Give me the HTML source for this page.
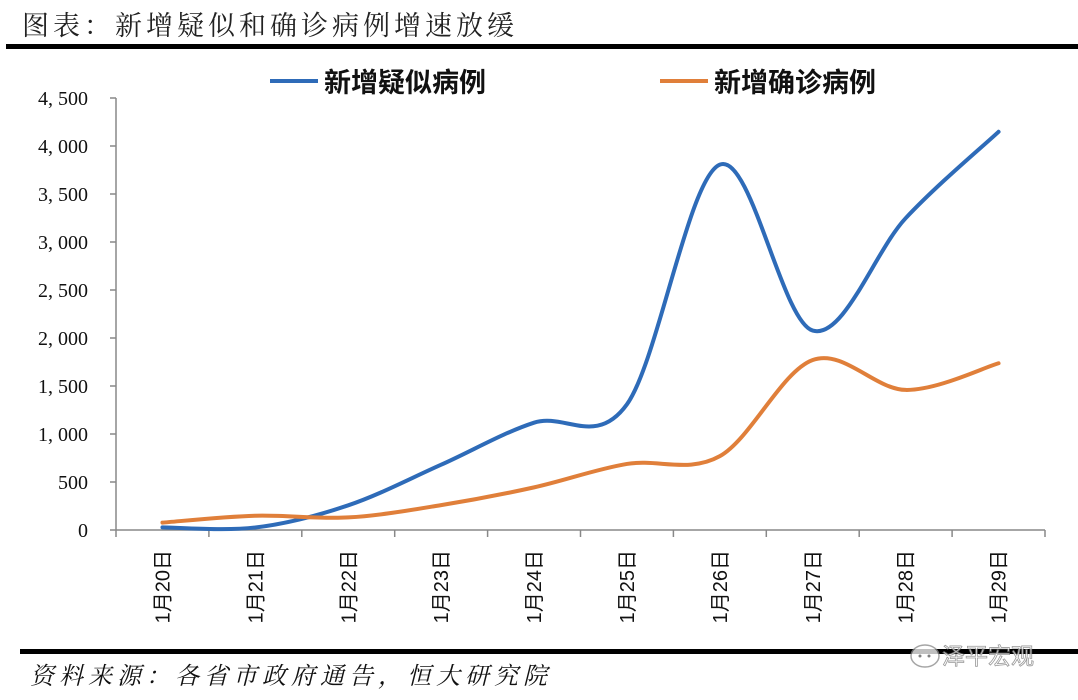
<!DOCTYPE html>
<html><head><meta charset="utf-8"><style>
body{margin:0;background:#fff;}
svg{display:block;}
</style></head><body>
<svg width="1078" height="700" xmlns="http://www.w3.org/2000/svg">
<text x="22" y="35" font-family="'Liberation Serif','Noto Serif CJK SC',serif" font-size="27" letter-spacing="4" fill="#222">图表：新增疑似和确诊病例增速放缓</text>
<rect x="6" y="44" width="1072" height="5" fill="#000"/>
<g id="legend">
<line x1="270" y1="81" x2="318" y2="81" stroke="#2e6bb8" stroke-width="4"/>
<text x="324" y="92" font-family="'Liberation Sans','Noto Sans CJK SC',sans-serif" font-weight="bold" font-size="27" fill="#111">新增疑似病例</text>
<line x1="660" y1="81" x2="708" y2="81" stroke="#e07f3a" stroke-width="4"/>
<text x="714" y="92" font-family="'Liberation Sans','Noto Sans CJK SC',sans-serif" font-weight="bold" font-size="27" fill="#111">新增确诊病例</text>
</g>
<g id="axes"></g>
<g id="series"></g>
<rect x="20" y="649" width="1058" height="5" fill="#000"/>
<text x="30" y="684" font-family="'Liberation Serif','Noto Serif CJK SC',serif" font-style="italic" font-size="24" letter-spacing="5" fill="#111">资料来源：各省市政府通告，恒大研究院</text>
<g opacity="0.75">
<ellipse cx="925" cy="656" rx="14" ry="11" fill="#fff" stroke="#888" stroke-width="1.5"/>
<circle cx="920" cy="656" r="1.5" fill="#555"/><circle cx="929" cy="656" r="1.5" fill="#555"/>
<text x="942" y="664" font-family="'Liberation Sans','Noto Sans CJK SC',sans-serif" font-size="23" fill="#fff" stroke="#777" stroke-width="0.8">泽平宏观</text>
</g>
</svg>
<script>
const categories=["1月20日","1月21日","1月22日","1月23日","1月24日","1月25日","1月26日","1月27日","1月28日","1月29日"];
const suspected=[27,26,257,680,1118,1309,3806,2077,3248,4148];
const confirmed=[77,149,131,259,444,688,769,1771,1459,1737];
const yTicks=[0,500,1000,1500,2000,2500,3000,3500,4000,4500];
const yTickLabels=["0","500","1, 000","1, 500","2, 000","2, 500","3, 000","3, 500","4, 000","4, 500"];
const NS="http://www.w3.org/2000/svg";
const X0=116,X1=1045,Y0=530,YTOP=98,YMAX=4500;
const step=(X1-X0)/categories.length;
const xS=i=>X0+step*(i+0.5);
const yS=v=>Y0-(v/YMAX)*(Y0-YTOP);
function mk(tag,attrs,parent){const e=document.createElementNS(NS,tag);for(const k in attrs)e.setAttribute(k,attrs[k]);parent.appendChild(e);return e;}
const ax=document.getElementById('axes');
const yl=mk('line',{x1:X0,y1:YTOP,x2:X0,y2:Y0,stroke:'#888','stroke-width':1.5},ax);


yTicks.forEach((t,i)=>{
 const tk=mk('line',{x1:X0-6,y1:yS(t),x2:X0,y2:yS(t),stroke:'#888','stroke-width':1.5},ax);
 
 
 const tx=mk('text',{x:88,y:yS(t)+7,'text-anchor':'end','font-family':"'Liberation Serif',serif",'font-size':20,fill:'#111','xml:space':'preserve'},ax);
 tx.textContent=yTickLabels[i];
 
 
});
const xl=mk('line',{x1:X0,y1:Y0,x2:X1,y2:Y0,stroke:'#888','stroke-width':1.5},ax);


for(let i=0;i<=categories.length;i++){
 const tk=mk('line',{x1:X0+step*i,y1:Y0,x2:X0+step*i,y2:Y0+7,stroke:'#888','stroke-width':1.5},ax);
 
 
}
categories.forEach((c,i)=>{
 const tx=mk('text',{x:0,y:0,'text-anchor':'end','font-family':"'Liberation Sans','Noto Sans CJK SC',sans-serif",'font-size':20,fill:'#111',transform:`translate(${xS(i)+7},550) rotate(-90)`},ax);
 tx.textContent=c;
 
 
});
function smooth(vals){
 const p=vals.map((v,i)=>[xS(i),yS(v)]);
 let d=`M${p[0][0]},${p[0][1]}`;
 for(let i=0;i<p.length-1;i++){
  const p0=p[Math.max(0,i-1)],p1=p[i],p2=p[i+1],p3=p[Math.min(p.length-1,i+2)];
  const t=1/6;
  const c1=[p1[0]+(p2[0]-p0[0])*t,p1[1]+(p2[1]-p0[1])*t];
  const c2=[p2[0]-(p3[0]-p1[0])*t,p2[1]-(p3[1]-p1[1])*t];
  d+=` C${c1[0]},${c1[1]} ${c2[0]},${c2[1]} ${p2[0]},${p2[1]}`;
 }
 return d;
}
const sg=document.getElementById('series');
const ls=mk('path',{d:smooth(suspected),fill:'none',stroke:'#2e6bb8','stroke-width':4,'stroke-linecap':'round'},sg);


const lc=mk('path',{d:smooth(confirmed),fill:'none',stroke:'#e07f3a','stroke-width':4,'stroke-linecap':'round'},sg);


</script>
</body></html>
